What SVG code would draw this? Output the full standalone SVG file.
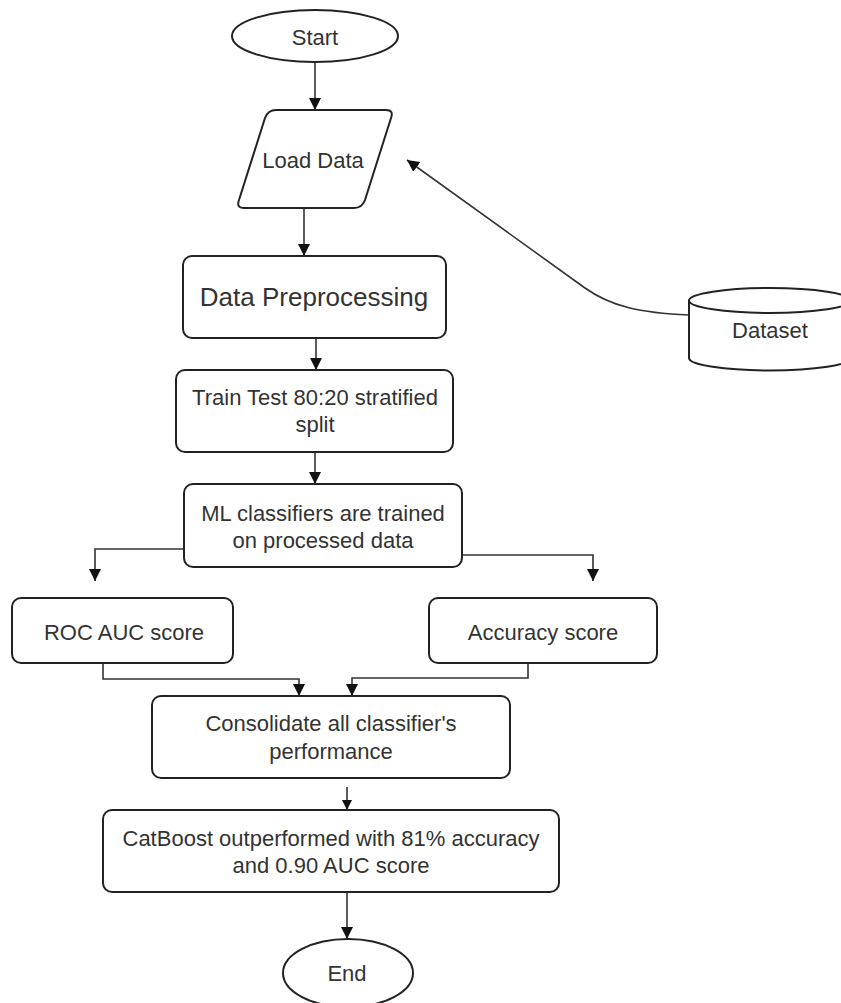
<svg xmlns="http://www.w3.org/2000/svg" width="841" height="1003" viewBox="0 0 841 1003">
<defs>
<style>
.box{fill:#fff;stroke:#222;stroke-width:2}
.t{font-family:"Liberation Sans",Arial,sans-serif;font-size:22px;fill:#333;text-anchor:middle;dominant-baseline:central}
.big{font-size:26px}
.c{fill:none;stroke:#333;stroke-width:1.6}
</style>
<marker id="ah" viewBox="0 0 12 12" refX="12" refY="6" markerWidth="12" markerHeight="12" markerUnits="userSpaceOnUse" orient="auto">
<path d="M0,0 L12,6 L0,12 z" fill="#111"/>
</marker>
<marker id="ahs" viewBox="0 0 12 12" refX="12" refY="6" markerWidth="10" markerHeight="10" markerUnits="userSpaceOnUse" orient="auto">
<path d="M0,0 L12,6 L0,12 z" fill="#111"/>
</marker>
</defs>
<rect width="841" height="1003" fill="#fff"/>
<g id="connectors">
<path class="c" d="M315 62 V110" marker-end="url(#ah)"/>
<path class="c" d="M304 208 V256" marker-end="url(#ah)"/>
<path class="c" d="M316 338 V370" marker-end="url(#ah)"/>
<path class="c" d="M315 453 V484" marker-end="url(#ah)"/>
<path class="c" d="M184 549 H95 V581" marker-end="url(#ah)"/>
<path class="c" d="M462 555 H593 V581" marker-end="url(#ah)"/>
<path class="c" d="M103 663 V679 H299 V696" marker-end="url(#ah)"/>
<path class="c" d="M528 663 V678 H352 V696" marker-end="url(#ah)"/>
<path class="c" d="M347 787 V810" marker-end="url(#ahs)"/>
<path class="c" d="M347 892 V939" marker-end="url(#ah)"/>
<path class="c" d="M689 315 C640 313 610 306 585 288 L407 160" marker-end="url(#ah)"/>
</g>
<g id="start">
<ellipse class="box" cx="315" cy="36" rx="83" ry="26"/>
<text class="t" x="315" y="37">Start</text>
</g>
<g id="load-data">
<path class="box" d="M276 110 L386 110 Q394 110 391 118 L365 200 Q362 208 354 208 L244 208 Q236 208 239 200 L265 118 Q268 110 276 110 Z"/>
<text class="t" x="313" y="160">Load Data</text>
</g>
<g id="dataset">
<path class="box" d="M689 300 V358 A81 12.5 0 0 0 851 358 V300"/>
<ellipse class="box" cx="770" cy="300.5" rx="81" ry="12.5"/>
<text class="t" x="770" y="330">Dataset</text>
</g>
<g id="data-preprocessing">
<rect class="box" x="183" y="256" width="263" height="82" rx="9"/>
<text class="t big" x="314" y="297">Data Preprocessing</text>
</g>
<g id="train-test">
<rect class="box" x="176" y="370" width="277" height="82" rx="9"/>
<text class="t" x="315" y="397">Train Test 80:20 stratified</text>
<text class="t" x="315" y="424">split</text>
</g>
<g id="ml-classifiers">
<rect class="box" x="184" y="484" width="278" height="83" rx="9"/>
<text class="t" x="323" y="513">ML classifiers are trained</text>
<text class="t" x="323" y="540">on processed data</text>
</g>
<g id="roc-auc">
<rect class="box" x="12" y="598" width="221" height="65" rx="9"/>
<text class="t" x="124" y="632">ROC AUC score</text>
</g>
<g id="accuracy">
<rect class="box" x="429" y="598" width="228" height="65" rx="9"/>
<text class="t" x="543" y="632">Accuracy score</text>
</g>
<g id="consolidate">
<rect class="box" x="152" y="696" width="358" height="82" rx="9"/>
<text class="t" x="331" y="723">Consolidate all classifier's</text>
<text class="t" x="331" y="751">performance</text>
</g>
<g id="catboost">
<rect class="box" x="103" y="810" width="456" height="82" rx="9"/>
<text class="t" x="331" y="838">CatBoost outperformed with 81% accuracy</text>
<text class="t" x="331" y="865">and 0.90 AUC score</text>
</g>
<g id="end">
<ellipse class="box" cx="348" cy="973" rx="65" ry="34"/>
<text class="t" x="347" y="973">End</text>
</g>
</svg>
